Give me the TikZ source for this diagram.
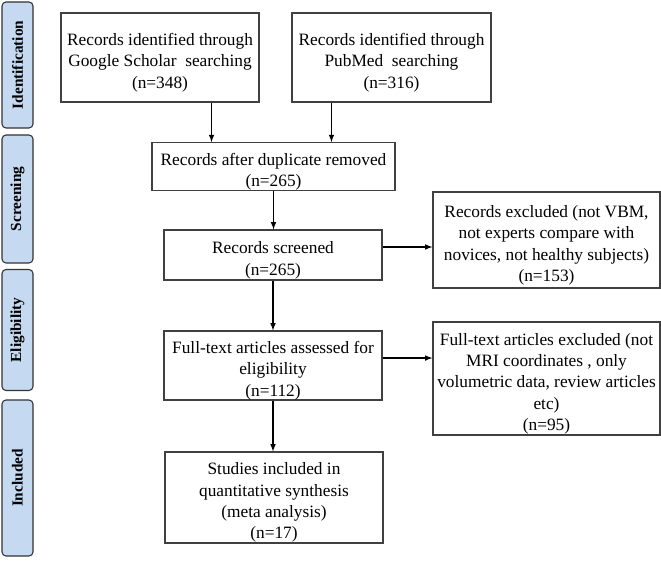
\documentclass[tikz,border=0pt]{standalone}
\usepackage{fontspec}
\setmainfont{Liberation Serif}
\usetikzlibrary{arrows, calc, positioning}
\definecolor{stageBlue}{HTML}{C5D9F1}
\tikzset{
    flowBox/.style={rectangle, draw=black!75, line width=0.8pt, fill=white, align=center, inner xsep=2pt, inner ysep=0pt, font=\fontsize{13}{16}\selectfont},
    stageBox/.style={rectangle, rounded corners=3pt, draw=black!80, line width=0.8pt, fill=stageBlue, minimum width=31*0.75pt, inner sep=0pt, font=\fontsize{11.5}{13}\selectfont\bfseries},
    flowEdge/.style={->, >=latex, line width=0.9pt},
}
\newcommand{\boxGap}{\rule{0pt}{17pt}}
\newcommand{\drawFlow}[2]{
    \draw[flowEdge] (#1) -- (#2);
}
\newcommand{\drawStage}[4]{
    \node[stageBox, minimum height=#3*0.75pt] (#1) at (17.5,#2) {\rotatebox{90}{#4}};
}

\begin{document}
\begin{tikzpicture}[x=0.75pt, y=-0.75pt]
    \useasboundingbox (0,0) rectangle (661,563);

        % stages
        \drawStage{ident}{65}{126}{Identification}
        \drawStage{screen}{199}{128}{Screening}
        \drawStage{elig}{330}{121}{Eligibility}
        \drawStage{incl}{478}{156}{Included}

        % boxes
        \node[flowBox, minimum width=198*0.75pt, minimum height=89*0.75pt] (gs) at (160,57.5) {\boxGap Records identified through\\Google Scholar\ \ searching\\(n=348)};
        \node[flowBox, minimum width=199*0.75pt, minimum height=89*0.75pt] (pm) at (391.5,57.5) {\boxGap Records identified through\\PubMed\ \ searching\\(n=316)};
        \node[flowBox, minimum width=243*0.75pt, minimum height=47*0.75pt] (dup) at (273.5,166.5) {\boxGap Records after duplicate removed\\(n=265)};
        \node[flowBox, minimum width=218*0.75pt, minimum height=50*0.75pt] (scr) at (273,255) {\boxGap Records screened\\(n=265)};
        \node[flowBox, minimum width=227*0.75pt, minimum height=96*0.75pt] (exA) at (546.5,240) {\boxGap Records excluded (not VBM,\\not experts compare with\\novices, not healthy subjects)\\(n=153)};
        \node[flowBox, minimum width=218*0.75pt, minimum height=67*0.75pt] (ft) at (273,365.5) {\boxGap Full-text articles assessed for\\eligibility\\(n=112)};
        \node[flowBox, minimum width=227*0.75pt, minimum height=113*0.75pt] (exB) at (546.5,378.5) {\boxGap Full-text articles excluded (not\\MRI coordinates , only\\volumetric data, review articles\\etc)\\(n=95)};
        \node[flowBox, minimum width=218*0.75pt, minimum height=91*0.75pt] (inc) at (274,497.5) {\boxGap Studies included in\\quantitative synthesis\\(meta analysis)\\(n=17)};

        % arrows
        \drawFlow{[xshift=-36pt]gs.south east}{[xshift=-36pt]gs.south east |- dup.north}
        \drawFlow{[xshift=30pt]pm.south west}{[xshift=30pt]pm.south west |- dup.north}
        \drawFlow{dup.south}{dup.south |- scr.north}
        \drawFlow{[yshift=6pt]scr.east}{[yshift=6pt]scr.east -| exA.west}
        \drawFlow{scr.south}{scr.south |- ft.north}
        \drawFlow{[yshift=5.6pt]ft.east}{[yshift=5.6pt]ft.east -| exB.west}
        \drawFlow{ft.south}{ft.south |- inc.north}

    \end{tikzpicture}
\end{document}
